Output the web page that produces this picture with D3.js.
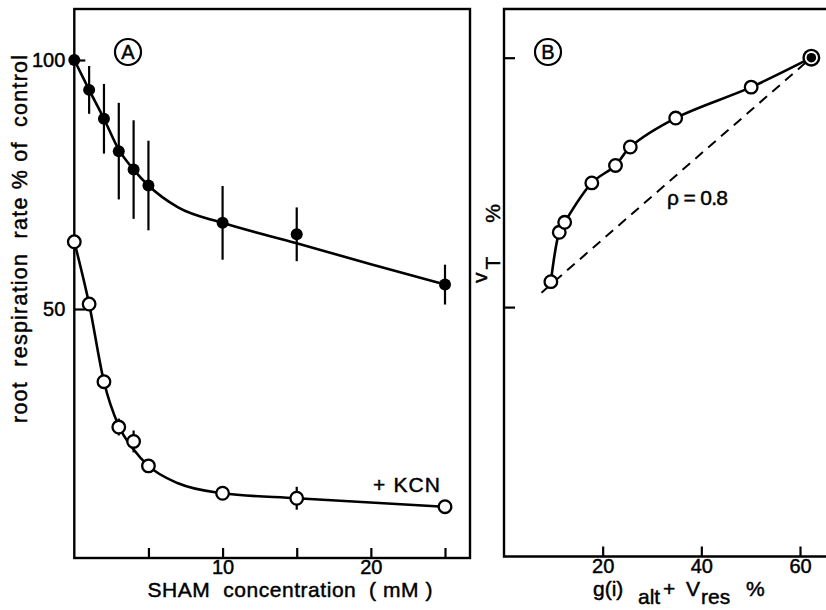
<!DOCTYPE html>
<html>
<head>
<meta charset="utf-8">
<script src="https://cdn.jsdelivr.net/npm/d3@7"></script>
<style>
    body { margin: 0; background: #fff; }
    svg { display: block; font-family: "Liberation Sans", Arial, sans-serif; }
    text { fill: #000; stroke: #000; stroke-width: 0.45px; }
</style>
</head>
<body>
<div id="chart"></div>
<script>
// ---- Panel A: root respiration vs SHAM concentration ----
const shamConc = [0, 1, 2, 3, 4, 5, 10, 15, 25];
const shamRate = [100, 94.0, 88.2, 81.7, 78.0, 74.8, 67.3, 65.0, 54.9];
const shamErr  = [0, 4.8, 7.0, 9.7, 9.9, 9.0, 7.4, 5.4, 4.0];
const kcnRate  = [63.5, 51.0, 35.4, 26.3, 23.4, 18.5, 13.0, 12.0, 10.3];
const kcnErr   = [0, 0, 0, 1.7, 2.2, 0, 0, 2.3, 0];

// hand drawn fit curves (nodes)
const shamFitX = [0, 1, 2, 3, 4, 5, 7, 10, 15, 20, 25];
const shamFitY = [100, 94, 88.2, 82, 78, 74.8, 70.4, 67.3, 63.2, 59.0, 54.9];
const kcnFitX  = [0, 1, 2, 3, 4, 5, 7, 10, 15, 25];
const kcnFitY  = [63.5, 51, 35.4, 26.5, 21.8, 18.5, 15.0, 13.0, 12.0, 10.3];

const xTicksA  = [5, 10, 15, 20, 25];
const xLabelsA = [10, 20];
const yTicks   = [50, 100];

// ---- Panel B: vT vs g(i)alt + Vres ----
const altRes   = [9.5, 11.2, 12.3, 17.8, 22.6, 25.6, 34.8, 50.1];
const vT       = [55.1, 65.0, 67.0, 74.9, 78.4, 82.1, 87.9, 94.1];
const endPoint = [62.3, 100];
const rhoLineX = [7.6, 62.3];
const rhoLineY = [52.9, 100];
const xTicksB  = [20, 40, 60];

const width = 826, height = 610;
const FONT = '"Liberation Sans", Arial, sans-serif';

const svg = d3.select('#chart').append('svg')
    .attr('width', width)
    .attr('height', height);

svg.append('rect').attr('width', width).attr('height', height).attr('fill', '#fff');

// scales
const xA = d3.scaleLinear().domain([0, 25]).range([74.3, 445]);
const yA = d3.scaleLinear().domain([0, 100]).range([558, 60]);
const xB = d3.scaleLinear().domain([0, 60]).range([504, 800]);
const yB = d3.scaleLinear().domain([0, 100]).range([556.5, 57.7]);

const frameTop = 9;

function styleAxis(g, size) {
    g.select('.domain').remove();
    g.attr('font-family', FONT).attr('font-size', size);
    g.selectAll('.tick line').attr('stroke', '#000').attr('stroke-width', 2.2);
    g.selectAll('.tick text').attr('fill', '#000');
}

// ---------- Panel A ----------
const a = svg.append('g');

// frame
a.append('rect')
    .attr('x', xA(0))
    .attr('y', frameTop)
    .attr('width', 470 - xA(0))
    .attr('height', yA(0) - frameTop)
    .attr('fill', 'none')
    .attr('stroke', '#000')
    .attr('stroke-width', 2.4);

a.append('g')
    .attr('transform', `translate(0,${yA(0)})`)
    .call(d3.axisBottom(xA)
        .tickValues(xTicksA)
        .tickSize(-10)
        .tickPadding(2)
        .tickFormat(d => xLabelsA.includes(d) ? d : ''))
    .call(g => styleAxis(g, 20));

a.append('g')
    .attr('transform', `translate(${xA(0)},0)`)
    .call(d3.axisLeft(yA)
        .tickValues(yTicks)
        .tickSize(-11)
        .tickPadding(9))
    .call(g => styleAxis(g, 20));

// fit curves
const lineA = d3.line().curve(d3.curveMonotoneX);
a.append('path')
    .attr('d', lineA(shamFitX.map((x, i) => [xA(x), yA(shamFitY[i])])))
    .attr('fill', 'none').attr('stroke', '#000').attr('stroke-width', 2.6);
a.append('path')
    .attr('d', lineA(kcnFitX.map((x, i) => [xA(x), yA(kcnFitY[i])])))
    .attr('fill', 'none').attr('stroke', '#000').attr('stroke-width', 2.6);

// error bars
a.selectAll('.err-sham')
    .data(shamConc.map((x, i) => ({ x, y: shamRate[i], e: shamErr[i] })).filter(d => d.e > 0))
    .enter().append('line')
    .attr('x1', d => xA(d.x)).attr('x2', d => xA(d.x))
    .attr('y1', d => yA(d.y - d.e)).attr('y2', d => yA(d.y + d.e))
    .attr('stroke', '#000').attr('stroke-width', 2.2);

a.selectAll('.err-kcn')
    .data(shamConc.map((x, i) => ({ x, y: kcnRate[i], e: kcnErr[i] })).filter(d => d.e > 0))
    .enter().append('line')
    .attr('x1', d => xA(d.x)).attr('x2', d => xA(d.x))
    .attr('y1', d => yA(d.y - d.e)).attr('y2', d => yA(d.y + d.e))
    .attr('stroke', '#000').attr('stroke-width', 2.2);

// points
a.selectAll('.dot-sham')
    .data(shamConc.map((x, i) => ({ x, y: shamRate[i] })))
    .enter().append('circle')
    .attr('cx', d => xA(d.x)).attr('cy', d => yA(d.y))
    .attr('r', 6).attr('fill', '#000');

a.selectAll('.dot-kcn')
    .data(shamConc.map((x, i) => ({ x, y: kcnRate[i] })))
    .enter().append('circle')
    .attr('cx', d => xA(d.x)).attr('cy', d => yA(d.y))
    .attr('r', 6.3).attr('fill', '#fff').attr('stroke', '#000').attr('stroke-width', 2.3);

// labels
a.append('text')
    .attr('transform', 'translate(27,239) rotate(-90)')
    .attr('text-anchor', 'middle')
    .attr('font-size', 21.5)
    .attr('textLength', 368)
    .attr('lengthAdjust', 'spacing')
    .style('white-space', 'pre')
    .text('root  respiration  rate % of  control');

a.append('text')
    .attr('x', 290).attr('y', 597)
    .attr('text-anchor', 'middle')
    .attr('font-size', 21)
    .attr('textLength', 285)
    .attr('lengthAdjust', 'spacing')
    .style('white-space', 'pre')
    .text('SHAM  concentration  ( mM )');

a.append('text')
    .attr('x', 373).attr('y', 492)
    .attr('font-size', 21)
    .attr('textLength', 67)
    .attr('lengthAdjust', 'spacing')
    .style('white-space', 'pre')
    .text('+ KCN');

a.append('circle')
    .attr('cx', 128).attr('cy', 52).attr('r', 13)
    .attr('fill', 'none').attr('stroke', '#000').attr('stroke-width', 2.2);
a.append('text')
    .attr('x', 128).attr('y', 52).attr('dy', '0.36em')
    .attr('text-anchor', 'middle').attr('font-size', 20)
    .text('A');

// ---------- Panel B ----------
const b = svg.append('g');

b.append('path')
    .attr('d', `M${width},${frameTop}H${xB(0)}V${yB(0)}H${width}`)
    .attr('fill', 'none').attr('stroke', '#000').attr('stroke-width', 2.4);

b.append('g')
    .attr('transform', `translate(0,${yB(0)})`)
    .call(d3.axisBottom(xB)
        .tickValues(xTicksB)
        .tickSize(-10)
        .tickPadding(2))
    .call(g => styleAxis(g, 20));

b.append('g')
    .attr('transform', `translate(${xB(0)},0)`)
    .call(d3.axisLeft(yB)
        .tickValues(yTicks)
        .tickSize(-11)
        .tickFormat(''))
    .call(g => styleAxis(g, 20));

// dashed rho line
b.append('path')
    .attr('d', d3.line()(rhoLineX.map((x, i) => [xB(x), yB(rhoLineY[i])])))
    .attr('fill', 'none').attr('stroke', '#000').attr('stroke-width', 2)
    .attr('stroke-dasharray', '10,7');

// solid curve through the points
const bPts = altRes.map((x, i) => [xB(x), yB(vT[i])]).concat([[xB(endPoint[0]), yB(endPoint[1])]]);
b.append('path')
    .attr('d', d3.line().curve(d3.curveCatmullRom.alpha(0.5))(bPts))
    .attr('fill', 'none').attr('stroke', '#000').attr('stroke-width', 2.6);

b.selectAll('.dot-b')
    .data(altRes.map((x, i) => ({ x, y: vT[i] })))
    .enter().append('circle')
    .attr('cx', d => xB(d.x)).attr('cy', d => yB(d.y))
    .attr('r', 6.3).attr('fill', '#fff').attr('stroke', '#000').attr('stroke-width', 2.3);

b.append('circle')
    .attr('cx', xB(endPoint[0])).attr('cy', yB(endPoint[1]))
    .attr('r', 7.8).attr('fill', '#fff').attr('stroke', '#000').attr('stroke-width', 2.4);
b.append('circle')
    .attr('cx', xB(endPoint[0])).attr('cy', yB(endPoint[1]))
    .attr('r', 4.8).attr('fill', '#000');

b.append('text')
    .attr('x', 667).attr('y', 205)
    .attr('font-size', 21)
    .attr('textLength', 61)
    .attr('lengthAdjust', 'spacing')
    .text('ρ = 0.8');

b.append('circle')
    .attr('cx', 548).attr('cy', 52).attr('r', 13)
    .attr('fill', 'none').attr('stroke', '#000').attr('stroke-width', 2.2);
b.append('text')
    .attr('x', 548).attr('y', 52).attr('dy', '0.36em')
    .attr('text-anchor', 'middle').attr('font-size', 20)
    .text('B');

// y label: v_T %
const yLab = b.append('text')
    .attr('transform', 'translate(500,283) rotate(-90)')
    .attr('font-size', 21);
yLab.append('tspan').attr('dy', -13).text('v');
yLab.append('tspan').attr('dy', 13).attr('dx', 3).text('T');
yLab.append('tspan').attr('dx', 34).text('%');

// x label: g(i) alt + V res %
const xLab = b.append('text')
    .attr('y', 596)
    .attr('font-size', 21);
xLab.append('tspan').attr('x', 593).text('g(i)');
xLab.append('tspan').attr('x', 638).attr('dy', 8).text('alt');
xLab.append('tspan').attr('x', 663).attr('dy', -8).text('+');
xLab.append('tspan').attr('x', 686).text('V');
xLab.append('tspan').attr('x', 701).attr('dy', 8).text('res');
xLab.append('tspan').attr('x', 746).attr('dy', -8).text('%');
</script>
</body>
</html>
